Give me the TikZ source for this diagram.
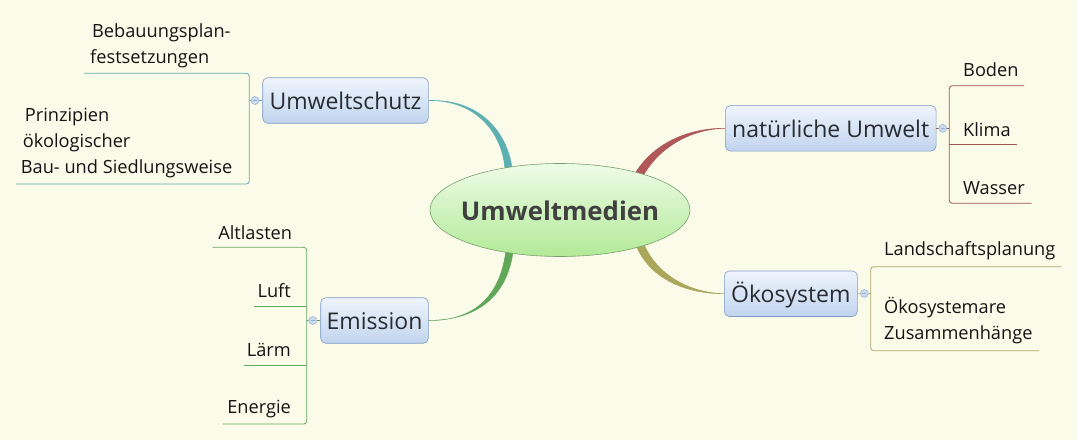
\documentclass[tikz,border=0pt]{standalone}
\usepackage{fontspec}
\setmainfont{Open Sans}
\usetikzlibrary{shapes.geometric}
\definecolor{bg}{RGB}{251,251,233}
\definecolor{tealc}{RGB}{92,176,178}
\definecolor{tealline}{RGB}{100,172,176}
\definecolor{redc}{RGB}{176,88,88}
\definecolor{redline}{RGB}{160,84,84}
\definecolor{olivec}{RGB}{170,166,90}
\definecolor{oliveline}{RGB}{176,168,100}
\definecolor{greenc}{RGB}{96,168,88}
\definecolor{greenline}{RGB}{104,166,96}
\definecolor{boxtop}{RGB}{238,244,252}
\definecolor{boxbot}{RGB}{193,212,238}
\definecolor{boxline}{RGB}{128,156,196}
\definecolor{elltop}{RGB}{238,252,230}
\definecolor{ellbot}{RGB}{178,234,152}
\definecolor{ellline}{RGB}{120,160,110}
\definecolor{maintext}{RGB}{64,64,64}
\definecolor{boxtext}{RGB}{40,44,50}
\definecolor{knobfill}{RGB}{205,218,238}
\definecolor{knobline}{RGB}{150,175,210}
\definecolor{subtext}{RGB}{20,20,20}
\begin{document}
\begin{tikzpicture}[x=1pt,y=-1pt,
  topic/.style={draw=boxline, line width=0.6pt, rounded corners=5pt, top color=boxtop, bottom color=boxbot, minimum height=45.5pt, inner sep=0pt, font=\fontsize{23}{27}\selectfont, text=boxtext, text height=22pt, text depth=4pt},
  sub/.style={inner sep=0pt, font=\fontsize{18.2}{26}\selectfont, text=subtext},
  knob/.style={circle, draw=knobline, fill=knobfill, minimum size=8pt, inner sep=0pt, line width=0.5pt},
  conn/.style={line width=0.5pt, line join=round},
  subline/.style={line width=0.8pt, rounded corners=3pt}]
\fill[bg] (0,0) rectangle (1077,440);
\useasboundingbox (0,0) rectangle (1077,440);

% topics
\node[topic, minimum width=165.6pt] (us) at (345.5,100.5) {Umweltschutz};
\node[topic, minimum width=107.6pt] (em) at (374.5,320.5) {Emission};
\node[topic, minimum width=210.7pt] (nu) at (830.7,128.3) {natürliche Umwelt};
\node[topic, minimum width=133pt] (oe) at (790.8,293.7) {Ökosystem};

% main connectors (tapered)
\filldraw[tealc, conn] (us.east) .. controls (478,100) and (503,135) .. (505,170) -- (512,168) .. controls (507,132) and (480,99) .. (us.east) -- cycle;
\filldraw[redc, conn] (nu.west) .. controls (690,128) and (655,142) .. (636,172) -- (643,176) .. controls (660,146) and (692,129) .. (nu.west) -- cycle;
\filldraw[olivec, conn] (oe.west) .. controls (690,293) and (656,275) .. (643,242) -- (636,245) .. controls (650,280) and (688,294) .. (oe.west) -- cycle;
\filldraw[greenc, conn] (em.east) .. controls (478,321) and (501,292) .. (506,250) -- (513,252) .. controls (507,294) and (480,320) .. (em.east) -- cycle;

% central topic
\node[ellipse, draw=ellline, line width=0.6pt, top color=elltop, bottom color=ellbot, minimum width=260pt, minimum height=93pt, inner sep=0pt, font=\bfseries\fontsize{25.8}{30}\selectfont, text=maintext, text height=23.4pt, text depth=2pt] (c) at (560,210) {\makebox[0pt]{Umweltmedien}};

% Umweltschutz subtopics
\node[sub, anchor=base west, align=left] (t1) at (90,63) {\hspace*{2pt}Bebauungsplan-\\festsetzungen};
\node[sub, anchor=base west, align=left] (t2) at (20.7,173.3) {\hspace*{4pt}Prinzipien\\\hspace*{2pt}ökologischer\\Bau- und Siedlungsweise};
\coordinate (u1) at (84,73.3);
\coordinate (u2) at (16,184);
\coordinate (ub) at (249.3,100.5);
\draw[tealline, subline] (u1) -- (249.3,73.3) -- (249.3,184) -- (u2);
\draw[tealline, line width=0.8pt] (us.west) -- (ub);
\node[knob] (k1) at (255,100.5) {};
\draw[knobline, line width=0.6pt] ([xshift=-2pt]k1.center) -- ([xshift=2pt]k1.center);

% Emission subtopics
\node[sub, anchor=base east] (a1t) at (292.3,239) {Altlasten};
\node[sub, anchor=base east] (a2t) at (291,297.7) {Luft};
\node[sub, anchor=base east] (a3t) at (291,356.7) {Lärm};
\node[sub, anchor=base east] (a4t) at (291,413.3) {Energie};
\coordinate (a1) at (212.7,247.3);
\coordinate (a2) at (254,306.7);
\coordinate (a3) at (243.7,365);
\coordinate (a4) at (222.7,424);
\coordinate (eb) at (306.7,320.5);
\draw[greenline, subline] (a1) -- (306.7,247.3) -- (306.7,424) -- (a4);
\draw[greenline, line width=0.8pt] (a2) -- (306.7,306.7);
\draw[greenline, line width=0.8pt] (a3) -- (306.7,365);
\draw[greenline, line width=0.8pt] (em.west) -- (eb);
\node[knob] (k2) at (312.7,320.5) {};
\draw[knobline, line width=0.6pt] ([xshift=-2pt]k2.center) -- ([xshift=2pt]k2.center);

% natuerliche Umwelt subtopics
\node[sub, anchor=base west] (b1t) at (963,76.7) {Boden};
\node[sub, anchor=base west] (b2t) at (963,136) {Klima};
\node[sub, anchor=base west] (b3t) at (963,194) {Wasser};
\coordinate (b1) at (1024,85.7);
\coordinate (b2) at (1016.7,144.3);
\coordinate (b3) at (1031.7,203.3);
\coordinate (nb) at (949.3,128.3);
\draw[redline, subline] (b1) -- (949.3,85.7) -- (949.3,203.3) -- (b3);
\draw[redline, line width=0.8pt] (949.3,144.3) -- (b2);
\draw[redline, line width=0.8pt] (nu.east) -- (nb);
\node[knob] (k3) at (942.7,128.3) {};
\draw[knobline, line width=0.6pt] ([xshift=-2pt]k3.center) -- ([xshift=2pt]k3.center);

% Oekosystem subtopics
\node[sub, anchor=base west] (o1t) at (884,255) {Landschaftsplanung};
\node[sub, anchor=base west, align=left] (o2t) at (884,339.3) {Ökosystemare\\Zusammenhänge};
\coordinate (o1) at (1061.7,266.7);
\coordinate (o2) at (1039.3,350.7);
\coordinate (ob) at (870.7,293.5);
\draw[oliveline, subline] (o1) -- (870.7,266.7) -- (870.7,350.7) -- (o2);
\draw[oliveline, line width=0.8pt] (oe.east) -- (ob);
\node[knob] (k4) at (864.3,293.5) {};
\draw[knobline, line width=0.6pt] ([xshift=-2pt]k4.center) -- ([xshift=2pt]k4.center);
\end{tikzpicture}
\end{document}
